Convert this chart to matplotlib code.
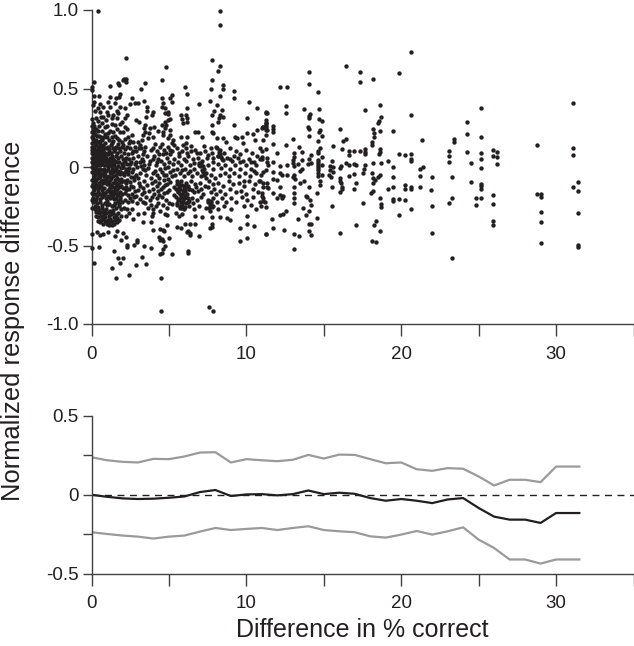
import matplotlib
matplotlib.use("Agg")
import matplotlib.pyplot as plt

plt.rcParams['font.family'] = ['Liberation Sans', 'DejaVu Sans']

# scatter values
pts_outer = [(.44,.996),(8.29,.996),(8.29,.904),(2.2,.694),(4.81,.637),(7.77,.684),(8.29,.641),(8.16,.611),
    (7.8,.554),(7.69,.495),(8.46,.522),(8.5,.5),(4.53,.554),(6.03,.507),(6.18,.463),(3.45,.535),(3.17,.497),
    (2.12,.563),(2.23,.558),(2.01,.554),(2.2,.539),(1.69,.537),(1.8,.52),(1.17,.518),(.16,.54),(.03,.507),(.01,.49),
    (9.19,.486),(9.19,.441),(8.29,.452),(7.65,.42),(6.96,.403),(10.2,.412),(10.66,.378),(11.24,.346),(10.01,.312),
    (4.46,-.917),(7.6,-.892),(7.82,-.917),(4.46,-.709),(1.58,-.709),(2.44,-.688),(1.3,-.645),(2.87,-.624),
    (3.52,-.616),(1.84,-.614),(.16,-.611),(1.69,-.582),(2.05,-.578),(3.26,-.573),(1.47,-.533),(2.31,-.507),
    (2.31,-.497),(2.74,-.497),(2.91,-.48),(2.91,-.465),(3.39,-.503),(3.84,-.514),(.01,-.518),(.48,-.507),
    (4.42,-.552),(4.53,-.55),(4.63,-.524),(4.74,-.5),(5.21,-.552),(6.25,-.535),(6.25,-.55)]

pts_upper = [(6.18,.374),(5.77,.331),(6.1,.331),(6.16,.31),(5.82,.304),(6.14,.289),(5.88,.278),(4.53,.442),(5.06,.437),
    (5.21,.459),(5.21,.416),(4.63,.41),(4.53,.384),(4.74,.374),(4.96,.352),(4.96,.337),(4.74,.346),(.16,.452),(.51,.454),
    (1.19,.448),(1.56,.437),(1.8,.444),(1.84,.465),(2.59,.437),(2.81,.41),(3.02,.406),(3.39,.42),(3.56,.384),(3.56,.359),
    (.16,.416),(.12,.395),(.55,.401),(1.09,.416),(1.52,.41),(.76,.38),(1.19,.38),(.44,.374),(.23,.359),(1.84,.384),
    (2.16,.374),(2.48,.401),(1.62,.357),(.55,.352),(.98,.352),(1.09,.331),(1.41,.331),(1.73,.342),(.29,.31),(.76,.316),
    (1.3,.31),(1.62,.31),(2.27,.331),(2.16,.31),(1.95,.289),(1.84,.274),(.44,.295),(.66,.278),(.16,.261),(.12,.24),
    (.51,.261),(.87,.257),(1.3,.274),(1.52,.267),(1.62,.24),(3.99,.352),(3.88,.331),(3.52,.316),(2.87,.299),(3.09,.289),
    (3.45,.267),(3.39,.246),(3.77,.246),(4.03,.253),(4.74,.289),(4.96,.299),(4.53,.267),(4.81,.267),(5.06,.306),
    (2.16,.257),(2.31,.24),(2.05,.225),(2.59,.204),(2.37,.193),(1.84,.225),(3.45,.225),(3.73,.214),(3.3,.204),(3.95,.193),
    (3.67,.183),(3.24,.172),(3.02,.161),(2.7,.161),(4.31,.232),(4.59,.225),(4.74,.246),(5.06,.236),(4.63,.204),(5.06,.204),
    (4.96,.183),(5.28,.172),(5.17,.151),(6.68,.221),(6.89,.221),(7.11,.193),(5.77,.189),(6.14,.189),(6.1,.151),(7.8,.268),
    (7.8,.225),(7.86,.214),(8.08,.183),(8.46,.183),(8.68,.161),(7.8,.331),(7.9,.357),(8.08,.395),(8.4,.363),(8.33,.331),
    (8.5,.316),(8.25,.31),(8.18,.289),(9.19,.267),(9.26,.193),(9.37,.183),(9.69,.193),(9.8,.151),(10.01,.214),(10.4,.208),
    (10.55,.172),(10.66,.236),(11.09,.257),(11.3,.278),(11.3,.236),(10.98,.246)]

pts_dense_top = [(.05,.22),(.1,.2),(.08,.18),(.15,.23),(.25,.21),(.4,.23),(.5,.2),(.62,.19),(.3,.17),(.45,.16),(.7,.17),
    (.85,.21),(1.0,.19),(1.15,.17),(.9,.15),(1.3,.19),(1.5,.2),(1.75,.17),(1.95,.16),(.05,.15),(.15,.13),(.3,.14),(.5,.13),
    (.65,.13),(.8,.12),(1.05,.13),(1.25,.14),(1.4,.12),(1.6,.13),(1.8,.12),(2.05,.14),(2.3,.13),(2.5,.12),(2.8,.13),
    (.02,.11),(.1,.1),(.2,.11),(.35,.1),(.5,.1),(.62,.11),(.75,.1),(.9,.09),(1.1,.1),(1.25,.09),(1.45,.1),(1.65,.09),
    (1.85,.1),(2.1,.09),(2.35,.08),(2.6,.09),(2.9,.1),(3.2,.12),(3.4,.1),(.03,.09),(.12,.08),(.22,.09),(.33,.07),(.45,.08),
    (.58,.07),(.7,.08),(.82,.07),(.95,.06),(1.05,.08),(1.18,.06),(1.32,.07),(1.42,.05),(1.55,.07),(1.7,.06),(1.9,.07),
    (2.02,.05),(2.2,.06),(2.45,.05),(2.7,.06),(3.0,.07),(3.25,.05),(3.6,.07),(.02,.06),(.08,.05),(.18,.06),(.27,.04),
    (.38,.05),(.5,.04),(.62,.05),(.75,.04),(.88,.04),(1.0,.03),(1.12,.04),(1.25,.03),(1.38,.02),(1.5,.04),(1.62,.03),
    (1.78,.03),(1.95,.02),(2.12,.03),(2.3,.02),(2.55,.03),(2.8,.02),(3.1,.03),(3.4,.01),(3.8,.04),(.04,.03),(.12,.02),
    (.22,.025),(.32,.015),(.44,.02),(.56,.01),(.68,.02),(.8,.01),(.93,.01),(1.08,.005),(1.2,.01),(1.33,-.002),(1.46,.01),
    (1.58,-.005),(1.72,.005),(1.88,-.005),(2.05,0),(2.22,-.01),(2.42,-.005),(2.65,-.01),(2.95,0),(3.3,-.01),(3.65,-.005)]

pts_dense_mid = [(.02,0),(.1,-.005),(.2,-.01),(.3,-.005),(.42,-.015),(.55,-.01),(.68,-.02),(.82,-.015),(.95,-.025),
    (1.05,-.015),(1.18,-.03),(1.3,-.02),(1.42,-.035),(1.55,-.025),(1.68,-.04),(1.82,-.03),(1.98,-.04),(2.15,-.03),
    (2.35,-.045),(2.6,-.035),(2.85,-.05),(3.15,-.04),(3.5,-.05),(.03,-.035),(.13,-.04),(.24,-.05),(.36,-.04),(.5,-.055),
    (.63,-.045),(.78,-.06),(.9,-.05),(1.02,-.065),(1.15,-.055),(1.28,-.07),(1.4,-.06),(1.52,-.08),(1.65,-.07),(1.78,-.085),
    (1.92,-.075),(2.1,-.09),(2.28,-.08),(2.5,-.095),(2.75,-.085),(3.05,-.1),(3.4,-.09),(.02,-.08),(.1,-.085),(.2,-.095),
    (.32,-.085),(.46,-.1),(.6,-.09),(.72,-.105),(.85,-.095),(.98,-.11),(1.12,-.1),(1.25,-.115),(1.38,-.105),(1.5,-.125),
    (1.62,-.115),(1.75,-.13),(1.88,-.12),(2.03,-.135),(2.2,-.125),(2.42,-.14),(2.7,-.13),(3.0,-.145),(3.3,-.135),(3.7,-.15),
    (.04,-.12),(.15,-.13),(.28,-.125),(.4,-.14),(.55,-.13),(.7,-.145),(.83,-.135),(.97,-.15),(1.1,-.14),(1.22,-.16),
    (1.35,-.15),(1.47,-.165),(1.6,-.155),(1.72,-.17),(1.85,-.16),(2.0,-.175),(2.18,-.165),(2.38,-.18),(2.62,-.17),
    (2.9,-.185),(3.25,-.175),(3.55,-.19),(.03,-.165),(.12,-.175),(.25,-.17),(.38,-.185),(.52,-.175),(.66,-.19),(.8,-.18),
    (.95,-.195),(1.08,-.185),(1.2,-.2),(1.33,-.19),(1.45,-.205),(1.58,-.2),(1.7,-.215),(1.83,-.205),(1.98,-.22),(2.15,-.21),
    (2.35,-.225),(2.6,-.215),(2.95,-.23),(3.3,-.22)]

pts_dense_low = [(.02,-.21),(.12,-.22),(.25,-.215),(.38,-.23),(.55,-.225),(.7,-.24),(.85,-.23),(1.0,-.245),(1.15,-.235),
    (1.3,-.25),(1.45,-.245),(1.6,-.26),(1.75,-.25),(1.9,-.265),(2.1,-.26),(2.3,-.27),(2.6,-.265),(.04,-.26),(.2,-.265),
    (.35,-.28),(.5,-.275),(.65,-.285),(.8,-.28),(.95,-.295),(1.1,-.285),(1.25,-.3),(1.4,-.29),(1.55,-.305),(1.7,-.295),
    (1.88,-.31),(2.2,-.31),(.3,-.31),(.45,-.32),(.6,-.31),(.75,-.33),(.9,-.32),(1.05,-.335),(1.2,-.33),(1.35,-.345),
    (1.5,-.335),(1.62,-.35),(1.78,-.34),(.4,-.345),(.58,-.35),(.72,-.36),(.88,-.345),(1.02,-.36),(1.18,-.355),(1.32,-.37),
    (1.48,-.36),(1.62,-.408),(1.52,-.437),(2.05,-.423),(2.23,-.444),(1.88,-.465),(.01,-.429),(.33,-.412),(.55,-.433),
    (.76,-.429),(1.04,-.412),(3.3,-.353),(3.84,-.353),(2.65,-.33),(3.0,-.3),(3.4,-.29),(3.9,-.31)]

# extra points for the near solid blob near the origin
pts_blob = [(.17,.075),(.41,.062),(.29,.093),(.66,.036),(.53,.088),(.97,.083),(1.13,.019),(.86,.058),(1.37,.044),(.74,.057),
    (.09,.033),(.23,-.022),(.47,-.033),(.61,.027),(.35,.018),(.79,-.037),(1.06,.042),(1.27,-.041),(.93,-.068),(.16,-.061),
    (.39,-.072),(.58,-.066),(.83,-.052),(1.21,-.083),(1.46,-.018),(.07,-.108),(.27,-.112),(.51,-.118),(.74,-.081),(1.03,-.092),
    (1.34,-.128),(1.58,-.052),(1.74,-.024),(1.91,-.097),(2.07,-.052),(.19,-.147),(.43,-.162),(.64,-.122),(.89,-.166),(1.17,-.118),
    (1.41,-.176),(1.66,-.143),(1.83,-.188),(2.24,-.103),(2.53,-.062),(.09,-.198),(.31,-.203),(.57,-.207),(.76,-.163),(1.02,-.217),
    (1.28,-.172),(1.53,-.227),(1.77,-.238),(1.56,-.1),(1.71,-.11),(1.49,-.147),(1.63,-.178),(1.86,-.044),(2.01,.012),(2.19,.041),
    (2.33,-.028),(2.48,.018),(2.72,-.062),(2.86,.034),(3.02,-.072),(3.18,.008),(2.25,-.147),(2.57,-.118),(2.81,-.156),(3.13,-.122),
    (2.46,-.199),(2.77,-.192),(3.11,-.205),(3.42,-.158),(.26,-.287),(.49,-.296),(.68,-.262),(.93,-.268),(1.12,-.312),(1.37,-.272),
    (1.22,-.281),(.82,-.308),(.63,-.338),(1.44,-.318),(.97,-.348),(1.13,-.372),(.24,-.246),(.44,-.252),(1.67,-.322),(2.42,-.296),
    (.06,.127),(.24,.152),(.41,.118),(.58,.148),(.73,.137),(.96,.118),(1.16,.112),(1.33,.153),(1.52,.113),(1.71,.148),
    (1.94,.128),(2.16,.112),(2.42,.151),(2.68,.105),(3.06,.118),(3.32,.083),(.03,.19),(.18,.172),(.36,.197),(.55,.168),
    (.78,.192),(1.08,.216),(1.22,.227),(1.42,.164),(1.64,.186),(2.18,.178),(2.48,.166),(.03,.262),(.28,.242),(.68,.232),
    (1.02,.258),(1.42,.226),(.04,.303),(.09,.278),(.61,.318),(.94,.302)]

# clusters of the 3 to 9 range
pts_mid_fill = [(5.54,-.108),(5.68,-.128),(5.82,-.117),(5.97,-.138),(6.12,-.128),(6.27,-.143),(5.58,-.152),(5.74,-.175),(5.91,-.153),
    (6.07,-.185),(6.22,-.198),(5.62,-.207),(5.78,-.225),(5.94,-.206),(6.11,-.232),(6.28,-.218),(5.69,-.248),(5.86,-.262),(6.04,-.254),
    (5.52,-.228),(7.53,-.222),(7.62,-.241),(7.71,-.217),(7.79,-.252),(7.58,-.258),(6.95,.028),(7.02,.005),(7.11,-.018),(7.2,-.035),
    (7.29,-.053),(7.38,-.068),(7.06,.024),(7.22,.008),(8.12,.118),(8.21,.098),(8.29,.082),(8.38,.061),(8.47,.047),(8.16,.072),
    (3.12,.142),(3.48,.125),(3.81,.107),(4.08,.148),(4.33,.083),(4.57,.147),(4.82,.088),(5.07,.108),(5.33,.142),(5.62,.092),
    (5.92,.138),(6.18,.087),(6.42,.131),(6.83,.087),(7.27,.136),(7.54,.077),(3.35,.037),(3.72,.017),(3.96,.053),(4.22,.029),
    (4.48,.041),(4.74,-.006),(5.02,.035),(5.27,-.018),(5.58,.033),(5.84,-.022),(6.12,.038),(6.38,-.028),(6.62,.027),(3.48,-.022),
    (3.84,-.071),(4.12,-.028),(4.38,-.072),(4.67,-.052),(4.93,-.078),(5.22,-.057),(3.58,-.112),(3.92,-.103),(4.22,-.122),(4.48,-.143),
    (4.72,-.112),(5.07,-.097),(5.3,-.128),(3.47,-.228),(3.78,-.212),(4.06,-.172),(4.33,-.178),(4.68,-.167),(5.02,-.148),(5.3,-.178),
    (3.62,-.258),(3.98,-.268),(4.28,-.228),(4.42,-.283),(4.98,-.228),(5.22,-.238),(6.48,-.148),(6.78,-.128),(6.58,-.228),(7.07,-.138),
    (8.92,.048),(9.22,.072),(9.58,.033),(9.88,-.088),(10.28,.032),(10.48,-.028),(10.82,-.092)]

pts_mid = [(3.95,.12),(4.2,.1),(4.45,.13),(4.7,.11),(4.95,.13),(5.2,.1),(5.5,.12),(5.85,.1),(6.1,.12),(6.4,.1),(6.7,.11),
    (7.0,.09),(7.3,.1),(7.7,.12),(8.05,.13),(8.3,.11),(8.55,.09),(8.95,.12),(9.3,.1),(9.6,.08),(10.0,.11),(10.35,.09),
    (10.7,.07),(11.0,.1),(4.05,.07),(4.3,.05),(4.6,.08),(4.85,.06),(5.1,.08),(5.35,.05),(5.65,.07),(5.95,.05),(6.25,.07),
    (6.55,.05),(6.85,.06),(7.15,.04),(7.45,.06),(7.8,.09),(7.82,.06),(8.2,.07),(8.45,.05),(8.75,.06),(9.1,.04),(9.45,.06),
    (9.8,.04),(10.15,.05),(10.5,.03),(10.85,.05),(4.15,.01),(4.4,-.01),(4.7,.02),(4.95,0),(5.25,.02),(5.5,-.01),(5.8,.01),
    (6.05,-.01),(6.35,.01),(6.65,-.01),(6.95,.01),(7.25,-.01),(7.55,.01),(7.85,.03),(7.85,-.01),(8.15,.02),(8.35,-.005),
    (8.6,.01),(8.95,-.01),(9.25,.01),(9.6,-.01),(9.95,.01),(10.3,-.01),(10.65,.01),(4.0,-.04),(4.25,-.05),(4.55,-.03),
    (4.8,-.05),(5.1,-.03),(5.4,-.05),(5.7,-.04),(5.95,-.06),(6.2,-.04),(6.5,-.06),(6.8,-.04),(7.1,-.06),(7.4,-.04),
    (7.7,-.05),(8.0,-.07),(8.3,-.05),(8.6,-.04),(8.9,-.06),(9.2,-.04),(9.55,-.06),(9.9,-.04),(10.25,-.06),(10.6,-.04),
    (10.95,-.05),(4.1,-.09),(4.35,-.1),(4.65,-.08),(4.9,-.11),(5.5,-.09),(5.65,-.11),(5.8,-.09),(5.95,-.12),(6.1,-.1),
    (6.25,-.12),(6.4,-.09),(6.7,-.11),(7.0,-.1),(7.3,-.12),(7.6,-.09),(7.85,-.11),(8.15,-.1),(8.5,-.12),(8.85,-.09),
    (9.15,-.11),(9.5,-.1),(9.85,-.12),(10.2,-.09),(10.55,-.11),(10.9,-.09),(4.0,-.14),(4.3,-.15),(4.6,-.13),(4.85,-.16),
    (5.45,-.14),(5.6,-.16),(5.72,-.14),(5.88,-.17),(6.02,-.15),(6.18,-.17),(6.32,-.14),(6.6,-.16),(6.9,-.15),(7.2,-.17),
    (7.55,-.13),(7.72,-.16),(7.88,-.14),(8.02,-.17),(8.3,-.15),(8.6,-.17),(8.95,-.14),(9.3,-.16),(9.65,-.15),(10.0,-.17),
    (10.4,-.14),(10.75,-.16),(11.05,-.13),(3.9,-.19),(4.2,-.2),(4.55,-.19),(4.8,-.21),(5.45,-.19),(5.6,-.21),(5.75,-.19),
    (5.9,-.22),(6.05,-.2),(6.2,-.22),(6.5,-.2),(6.8,-.21),(7.1,-.19),(7.5,-.21),(7.7,-.23),(7.85,-.2),(8.1,-.22),(8.4,-.2),
    (8.7,-.22),(9.0,-.2),(9.35,-.22),(9.7,-.19),(10.05,-.21),(10.45,-.19),(10.85,-.22),(11.1,-.2),(3.85,-.24),(4.15,-.25),
    (4.6,-.24),(4.85,-.26),(5.55,-.24),(5.7,-.26),(5.85,-.24),(6.0,-.27),(6.3,-.25),(6.6,-.27),(6.95,-.25),(7.4,-.26),
    (7.65,-.28),(7.85,-.25),(8.15,-.27),(8.55,-.25),(9.0,-.27),(9.85,-.25),(10.3,-.24),(10.6,-.27),(10.95,-.25),(4.0,-.29),
    (4.75,-.3),(5.45,-.29),(5.65,-.31),(5.85,-.3),(6.68,-.31),(7.11,-.32),(7.8,-.316),(8.29,-.316),(8.76,-.327),(8.94,-.338),
    (10.01,-.312),(4.89,-.306),(4.85,-.37),(5.5,-.38),(5.77,-.387),(6.03,-.365),(6.35,-.365),(6.68,-.365),(7.75,-.365),
    (7.8,-.38),(7.65,-.387),(9.62,-.469),(10.01,-.45),(11.3,-.429),(9.62,-.391),(10.01,-.365),(10.5,-.374),(6.96,-.442),
    (6.25,-.406),(6.35,-.423),(6.35,-.433),(6.18,-.412),(4.42,-.465),(4.53,-.459),(4.63,-.471),(5.02,-.45),(4.38,-.444),
    (4.42,-.395),(4.59,-.401),(4.7,-.408),(3.99,-.401)]

pts_tail_a = [(20.65,.733),(16.42,.643),(14.03,.603),(17.32,.603),(17.32,.543),(18.18,.56),(19.86,.597),(14.03,.526),(12.16,.512),
    (12.63,.512),(14.61,.476),(12.53,.391),(12.59,.346),(13.73,.367),(14.72,.369),(14.14,.34),(14.05,.325),(14.03,.31),
    (18.65,.393),(17.64,.363),(18.7,.32),(18.57,.291),(18.48,.278),(20.65,.333),(11.24,.35),(11.34,.343),(11.3,.299),
    (11.3,.282),(11.3,.267),(11.09,.253),(11.3,.253),(11.34,.236),(11.3,.206),(11.73,.263),(11.73,.242),(11.73,.221),
    (14.7,.308),(14.87,.295),(13.99,.257),(14.03,.24),(14.05,.2),(14.74,.236),(14.7,.223),(14.87,.197),(16.07,.24),
    (18.18,.244),(18.22,.214),(18.22,.189),(18.61,.227),(19.49,.227),(21.34,.172),(13.02,.176),(11.09,.172),(14.61,.168),
    (16.42,.178),(16.25,.166),(18.1,.159),(18.1,.142),(11.75,.147),(12.53,.142),(13.39,.13),(15.6,.132),(14.74,.121),
    (14.65,.104),(14.61,.087),(11.3,.117),(10.87,.119),(11.95,.091),(13.09,.091),(13.09,.064),(12.99,.045),(13.62,.096),
    (14.2,.076),(16.2,.112),(16.63,.104),(16.63,.076),(16.94,.1),(17.32,.1),(17.64,.112),(17.64,.098),(17.64,.083),
    (18.61,.112),(18.65,.095),(18.57,.081),(19.86,.081),(20.27,.077),(20.65,.083),(20.65,.049),(20.65,.04)]

pts_tail_b = [(11.04,.066),(11.04,.049),(11.34,.055),(11.34,.034),(11.73,.034),(13.62,.045),(14.05,.049),(14.2,.028),(13.99,.019),
    (14.63,.044),(14.63,.032),(14.63,.019),(14.63,.006),(14.63,-.006),(14.63,-.019),(14.63,-.036),(14.63,-.058),(14.87,.066),
    (14.87,.013),(14.87,-.053),(15.56,.04),(16.14,.006),(16.03,-.006),(16.42,.028),(16.63,.013),(16.94,.017),(17.06,.013),
    (15.39,.006),(15.6,-.002),(15.39,-.019),(15.6,-.03),(15.34,-.053),(15.49,-.062),(18.18,.023),(18.72,.027),(19.17,.036),
    (19.49,-.002),(17.64,.011),(17.58,-.015),(17.54,-.036),(18.1,-.036),(18.61,-.051),(18.5,-.066),(18.18,-.072),(18.29,-.083),
    (18.18,-.104),(21.41,.002),(21.24,-.013),(21.19,-.058),(22.0,-.062),(19.49,-.064),(16.63,-.055),(16.94,-.047),(16.03,-.068),
    (16.03,-.087),(16.12,-.104),(16.2,-.125),(16.2,-.138),(17.06,-.104),(16.94,-.142),(16.07,-.16),(15.56,-.125),(14.74,-.087),
    (14.74,-.115),(14.57,-.164),(14.05,-.125),(19.17,-.142),(19.49,-.127),(20.27,-.113),(20.27,-.14),(20.65,-.127),(20.65,-.142),
    (21.19,-.125),(21.92,-.149),(18.18,-.15),(18.07,-.168),(18.61,-.2),(18.7,-.236),(18.7,-.257),(19.49,-.202),(19.49,-.215),
    (19.86,-.206),(20.27,-.21),(17.54,-.227),(15.54,-.248),(20.65,-.27),(22.0,-.246),(19.86,-.306),(18.37,-.344),(18.22,-.372),
    (18.61,-.406),(17.06,-.372),(16.07,-.418),(22.0,-.418),(18.1,-.472),(18.37,-.478)]

pts_tail_c = [(12.16,.006),(12.63,.013),(12.98,.027),(13.09,.006),(13.34,.017),(13.62,-.015),(13.45,-.028),(13.09,-.053),(13.02,-.066),
    (13.13,-.079),(11.09,-.03),(11.3,-.019),(11.41,.013),(11.73,-.03),(12.16,-.036),(12.27,-.051),(12.63,-.051),(12.01,-.083),
    (11.69,-.079),(13.73,-.087),(13.45,-.104),(11.09,-.104),(11.34,-.1),(11.34,-.125),(11.41,-.136),(12.16,-.125),(13.09,-.125),
    (10.98,-.168),(10.98,-.183),(11.73,-.168),(11.95,-.196),(12.16,-.178),(12.38,-.183),(12.27,-.2),(13.09,-.168),(13.09,-.2),
    (13.09,-.232),(13.88,-.183),(13.92,-.193),(14.14,-.21),(14.2,-.242),(11.09,-.214),(11.19,-.221),(11.24,-.253),(13.67,-.263),
    (14.05,-.28),(13.88,-.304),(14.57,-.323),(12.53,-.28),(12.16,-.306),(12.38,-.302),(11.67,-.329),(13.34,-.329),(14.03,-.363),
    (14.2,-.363),(11.73,-.391),(12.42,-.401),(11.3,-.429),(13.09,-.429),(13.39,-.437),(14.05,-.406),(14.2,-.431),(13.09,-.525)]

pts_tail_d = [(25.13,.376),(24.25,.287),(24.25,.21),(23.4,.18),(23.4,.157),(25.13,.193),(23.08,.1),(23.08,.068),(23.08,.03),(24.25,.094),
    (25.13,.09),(25.13,.053),(25.13,-.009),(24.5,.028),(25.9,.106),(25.9,.068),(26.2,.094),(26.2,.066),(26.2,.019),(23.3,-.064),
    (24.5,-.093),(25.13,-.108),(25.13,-.123),(25.13,-.138),(23.3,-.195),(23.08,-.229),(24.85,-.197),(25.13,-.197),(24.85,-.244),
    (25.9,-.18),(25.9,-.233),(25.9,-.344),(25.9,-.367),(23.3,-.582),(28.78,.138),(28.78,-.174),(29.0,-.17),(29.0,-.193),
    (29.0,-.285),(29.0,-.348),(29.0,-.486),(31.1,.408),(31.1,.123),(31.1,.076),(31.43,-.094),(31.1,-.13),(31.43,-.153),
    (31.43,-.295),(31.43,-.497),(31.43,-.507)]

# sliding window curves
win_x = [0,1,2,3,4,5,6,7,8,9,10,11,12,13,14,15,16,17,18,19,20,21,22,23,24,25,26,27,28,29,30,31.5]
win_upper = [.238,.219,.209,.205,.228,.226,.243,.268,.27,.205,.226,.219,.213,.222,.253,.23,.255,.253,.226,.2,.205,.162,.152,.169,.165,.116,.059,.095,.095,.08,.179,.179]
win_mean = [0,-.013,-.023,-.027,-.025,-.019,-.011,.017,.03,-.008,.002,.004,-.004,.004,.027,.004,.013,.006,-.021,-.038,-.027,-.038,-.053,-.03,-.021,-.084,-.139,-.158,-.158,-.179,-.116,-.116]
win_lower = [-.238,-.249,-.259,-.266,-.278,-.266,-.259,-.234,-.211,-.224,-.217,-.211,-.224,-.211,-.2,-.224,-.232,-.238,-.264,-.272,-.253,-.23,-.253,-.232,-.207,-.285,-.338,-.411,-.411,-.437,-.411,-.411]

INK = "#231f20"
AXIS = "#404040"
W, H = 634, 646

all_pts = (pts_outer + pts_upper + pts_dense_top + pts_dense_mid + pts_dense_low + pts_blob + pts_mid + pts_mid_fill
           + pts_tail_a + pts_tail_b + pts_tail_c + pts_tail_d)
diff_x = [p[0] for p in all_pts]
diff_y = [p[1] for p in all_pts]

fig = plt.figure(figsize=(W / 100, H / 100), dpi=100)
ax1 = fig.add_axes([91.5 / W, 1 - 324 / H, 542 / W, 314 / H])
ax2 = fig.add_axes([91.5 / W, 1 - 573.5 / H, 542 / W, 157.5 / H])

ax1.scatter(diff_x, diff_y, s=10, color=INK, linewidths=0, clip_on=False, zorder=3)
ax1.set_ylim(-1, 1)
ax1.set_yticks([-1, -.5, 0, .5, 1])
ax1.set_yticklabels(["-1.0", "-0.5", "0", "0.5", "1.0"])

ax2.axhline(0, color=INK, lw=1.0, dashes=(5, 4))
ax2.plot(win_x, win_upper, color="#9a9a9a", lw=1.6)
ax2.plot(win_x, win_lower, color="#9a9a9a", lw=1.6)
ax2.plot(win_x, win_mean, color=INK, lw=1.6)
ax2.set_ylim(-.5, .5)
ax2.set_yticks([-.5, -.25, 0, .25, .5])
ax2.set_yticklabels(["-0.5", "", "0", "", "0.5"])
ax2.set_xlabel("Difference in % correct", fontsize=18, color=INK, labelpad=4)

for ax in (ax1, ax2):
    ax.set_xlim(0, 35)
    ax.set_xticks(range(0, 36, 5))
    ax.set_xticklabels(["0", "", "10", "", "20", "", "30", ""])
    ax.spines["top"].set_visible(False)
    ax.spines["right"].set_visible(False)
    ax.spines["left"].set_color(AXIS)
    ax.spines["bottom"].set_color(AXIS)
    ax.spines["left"].set_linewidth(1.0)
    ax.spines["bottom"].set_linewidth(1.0)
    ax.tick_params(axis="x", length=8.5, width=1.0, color=AXIS, labelsize=13.5, labelcolor=INK, pad=7)
    ax.tick_params(axis="y", length=6.5, width=1.0, color=AXIS, labelsize=13.5, labelcolor=INK, pad=3)

fig.text(13 / W, 1 - 321 / H, "Normalized response difference", rotation=90, fontsize=18.4,
         color=INK, ha="center", va="center")

fig.savefig("out.png", dpi=100)
